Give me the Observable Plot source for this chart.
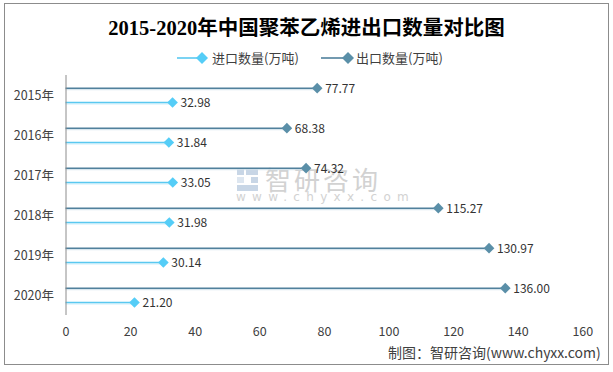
<!DOCTYPE html>
<html>
<head>
<meta charset="utf-8">
<script src="https://cdn.jsdelivr.net/npm/d3@7"></script>
<script src="https://cdn.jsdelivr.net/npm/@observablehq/plot@0.6"></script>
<style>
  html, body { margin: 0; padding: 0; background: #fff; }
  #wrap { position: relative; width: 613px; height: 372px; overflow: hidden; font-family: "Noto Sans CJK SC", "DejaVu Sans", sans-serif; }
  #frame { position: absolute; left: 4px; top: 3px; width: 605px; height: 362px; border: 1px solid #8c8c8c; box-sizing: border-box; }
  #title { position: absolute; left: 0; width: 613px; top: 11px; text-align: center; font-family: "Liberation Serif", "Noto Sans CJK SC", serif; font-weight: bold; font-size: 20.5px; color: #000; }
  #legend { position: absolute; top: 49px; left: 0; width: 613px; height: 18px; font-size: 13px; color: #404040; }
  .lgs { position: absolute; top: 2px; }
  .lgt { position: absolute; top: 0; line-height: 18px; white-space: nowrap; }
  #caption { position: absolute; left: 388px; top: 341px; font-size: 14px; line-height: 22px; color: #404040; white-space: nowrap; }
  #wm1 { position: absolute; left: 265px; top: 160px; font-size: 26px; color: #d2d2d2; letter-spacing: 3px; }
  #wm2 { position: absolute; left: 236px; top: 190px; font-size: 12px; color: #d2d2d2; letter-spacing: 6.3px; font-family: "DejaVu Sans", sans-serif; }
  #chart { position: absolute; left: 0; top: 0; }
</style>
</head>
<body>
<div id="wrap">
  <div id="frame"></div>
  <div id="wm1">智研咨询</div>
  <div id="wm2">www.chyxx.com</div>
  <svg id="logo" width="30" height="30" style="position:absolute;left:236px;top:166px">
    <rect x="1" y="3" width="7" height="6" fill="#c8d6e6"/>
    <rect x="10" y="3" width="12" height="6" fill="#c8d6e6"/>
    <rect x="1" y="11" width="7" height="6" fill="#dde6f0"/>
    <rect x="15" y="11" width="7" height="6" fill="#c8d6e6"/>
    <rect x="1" y="19" width="21" height="6" fill="#c8d6e6"/>
  </svg>
  <div id="chart"></div>
  <div id="title">2015-2020年中国聚苯乙烯进出口数量对比图</div>
  <div id="legend"></div>
  <div id="caption">制图：智研咨询(www.chyxx.com)</div>
</div>
<script>
const years = ["2015年", "2016年", "2017年", "2018年", "2019年", "2020年"];
const importVals = [32.98, 31.84, 33.05, 31.98, 30.14, 21.20];
const exportVals = [77.77, 68.38, 74.32, 115.27, 130.97, 136.00];
const xTicks = [0, 20, 40, 60, 80, 100, 120, 140, 160];
const seriesNames = ["进口数量(万吨)", "出口数量(万吨)"];
const importColor = "#55cdf7";
const importLine = "#5ac8f0";
const exportColor = "#5a8fa8";
const exportLine = "#50809c";

const imp = years.map((y, i) => ({year: y, value: importVals[i]}));
const exp = years.map((y, i) => ({year: y, value: exportVals[i]}));

const chart = Plot.plot({
  width: 613,
  height: 372,
  marginTop: 75,
  marginBottom: 57,
  marginLeft: 65.5,
  marginRight: 30.7,
  style: {fontFamily: "Noto Sans CJK SC, DejaVu Sans, sans-serif", fontSize: "12.5px", color: "#404040", background: "transparent"},
  x: {domain: [0, 160], ticks: xTicks, tickSize: 0, tickPadding: 12, label: null, tickFormat: d => String(d)},
  y: {type: "band", domain: years, padding: 0, tickSize: 0, tickPadding: 12, label: null},
  marks: [
    Plot.axisX({ticks: xTicks, tickSize: 0, tickPadding: 12, fontSize: 12.5, label: null}),
    Plot.axisY({tickSize: 0, tickPadding: 12, fontSize: 12.5, label: null}),
    Plot.ruleY(exp, {y: "year", x1: 0, x2: "value", dy: -5.8, stroke: "#cfe0ea", strokeWidth: 1}),
    Plot.ruleY(exp, {y: "year", x1: 0, x2: "value", dy: -7.3, stroke: exportLine, strokeWidth: 1.6}),
    Plot.ruleY(imp, {y: "year", x1: 0, x2: "value", dy: 8.5, stroke: "#cdeefb", strokeWidth: 1}),
    Plot.ruleY(imp, {y: "year", x1: 0, x2: "value", dy: 7, stroke: importLine, strokeWidth: 1.6}),
    Plot.ruleX([0], {stroke: "#8c8c8c", strokeWidth: 1}),
    Plot.dot(exp, {y: "year", x: "value", dy: -7.3, symbol: "diamond2", r: 4.8, fill: exportColor, stroke: "none"}),
    Plot.dot(imp, {y: "year", x: "value", dy: 7, symbol: "diamond2", r: 4.8, fill: importColor, stroke: "none"}),
    Plot.text(exp, {y: "year", x: "value", dy: -6.8, dx: 8, text: d => d.value.toFixed(2), textAnchor: "start", fill: "#333", fontSize: 12}),
    Plot.text(imp, {y: "year", x: "value", dy: 7.5, dx: 8, text: d => d.value.toFixed(2), textAnchor: "start", fill: "#333", fontSize: 12})
  ]
});
document.getElementById("chart").appendChild(chart);

const legend = document.getElementById("legend");
const items = [
  {name: seriesNames[0], line: importLine, fill: importColor, left: 177, dia: 202, text: 212},
  {name: seriesNames[1], line: exportLine, fill: exportColor, left: 321, dia: 348, text: 356}
];
for (const it of items) {
  const w = it.dia - it.left + 7;
  const c = it.dia - it.left;
  const s = document.createElement("div");
  s.className = "lgs";
  s.style.left = it.left + "px";
  s.innerHTML = `<svg width="${w}" height="14" style="display:block"><line x1="0" y1="7" x2="${c}" y2="7" stroke="${it.line}" stroke-width="1.6"/><path d="M${c},1 L${c + 6},7 L${c},13 L${c - 6},7 Z" fill="${it.fill}"/></svg>`;
  legend.appendChild(s);
  const t = document.createElement("div");
  t.className = "lgt";
  t.style.left = it.text + "px";
  t.textContent = it.name;
  legend.appendChild(t);
}
</script>
</body>
</html>
